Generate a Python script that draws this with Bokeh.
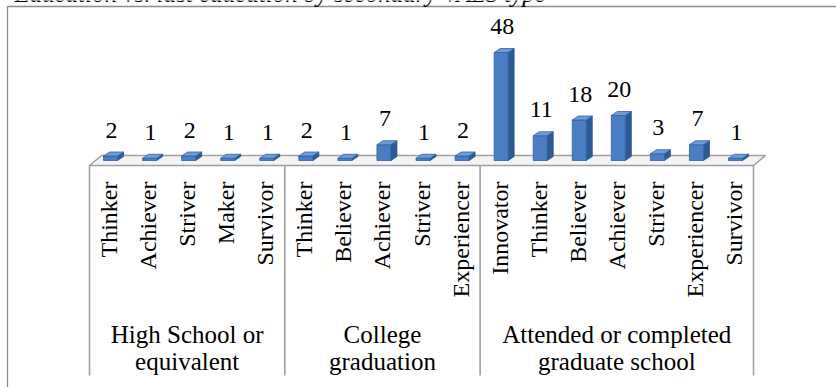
import math
from bokeh.plotting import figure
from bokeh.models import Range1d, ColumnDataSource
from bokeh.embed import file_html
from bokeh.resources import INLINE
from bokeh.core.properties import value

# ---- data -------------------------------------------------------------
title_text = "Education vs. last education by secondary VALS type"

group_line1 = ["High School or", "College", "Attended or completed"]
group_line2 = ["equivalent", "graduation", "graduate school"]

types_hs = ["Thinker", "Achiever", "Striver", "Maker", "Survivor"]
counts_hs = [2, 1, 2, 1, 1]

types_col = ["Thinker", "Believer", "Achiever", "Striver", "Experiencer"]
counts_col = [2, 1, 7, 1, 2]

types_grad = ["Innovator", "Thinker", "Believer", "Achiever", "Striver",
              "Experiencer", "Survivor"]
counts_grad = [48, 11, 18, 20, 3, 7, 1]

# ---- layout (pixels) ----------------------------------------------------
W, H = 836, 387
X0 = 89.0        # left edge of the category band
STEP = 39.06     # pixels per category
BASE = 160.0     # screen y of value 0
PPU = 2.25       # pixels per unit of value
TXT_SHIFT = 7.0  # svg alphabetic baseline sits a little low; lift it


def sx(px):
    """screen x pixel -> data x"""
    return (px - X0) / STEP


def sy(py):
    """screen y pixel (from top) -> data y"""
    return (BASE - py) / PPU


p = figure(width=W, height=H, min_border=0, toolbar_location=None,
           output_backend="svg", x_axis_location=None, y_axis_location=None,
           x_range=Range1d(sx(0), sx(W)), y_range=Range1d(sy(H), sy(0)))
p.grid.visible = False
p.outline_line_color = None
p.background_fill_color = "white"
p.border_fill_color = "white"

FONT = "Liberation Serif"
GRAY = "#a0a0a0"

types = types_hs + types_col + types_grad
counts = counts_hs + counts_col + counts_grad
sizes = [len(types_hs), len(types_col), len(types_grad)]
n = len(types)
centers = [i + 0.5 for i in range(n)]

# outer frame (top and left edges)
p.line([sx(7), sx(7), sx(W + 5)], [sy(H + 5), sy(6), sy(6)],
       line_color="#8c8c8c", line_width=1.3)

# caption running off the top edge
p.text(x=[sx(14)], y=[sy(-0.5 - TXT_SHIFT)], text=[title_text],
       text_font=value(FONT), text_font_size="25px", text_font_style="italic",
       text_align="left", text_baseline="alphabetic", text_color="black")

# floor plane
fdx = 12.0 / STEP
fdy = 5.0 / PPU
p.patch([0, n, n + fdx, fdx], [-fdy, -fdy, fdy, fdy],
        fill_color="#f4f4f4", line_color=GRAY, line_width=1.5)

# group separators below the floor
bounds = [0]
for s in sizes:
    bounds.append(bounds[-1] + s)
p.segment(x0=bounds, y0=[-fdy] * len(bounds), x1=bounds,
          y1=[sy(375)] * len(bounds), line_color=GRAY, line_width=1.6)

# 3-D bars
hw = 7.0 / STEP
bdx = 6.0 / STEP
bdy = 4.0 / PPU
off = 1.5 / STEP
front_xs, front_ys, side_xs, side_ys, top_xs, top_ys = [], [], [], [], [], []
for c, v in zip(centers, counts):
    l, r = c + off - hw, c + off + hw
    front_xs.append([l, r, r, l])
    front_ys.append([0, 0, v, v])
    side_xs.append([r, r + bdx, r + bdx, r])
    side_ys.append([0, bdy, v + bdy, v])
    top_xs.append([l, r, r + bdx, l + bdx])
    top_ys.append([v, v, v + bdy, v + bdy])

p.patches(side_xs, side_ys, fill_color="#2e5a93", line_color="#27508a", line_width=0.8)
p.patches(front_xs, front_ys, fill_color="#4a7ec2", line_color="#2f62a3", line_width=0.8)
p.patches(top_xs, top_ys, fill_color="#6f9bd6", line_color="#2f62a3", line_width=0.8)

# value labels
lab = ColumnDataSource(dict(
    x=[c + off + 1.0 / STEP for c in centers],
    y=[v + bdy + (15.0 + TXT_SHIFT) / PPU for v in counts],
    t=[str(v) for v in counts]))
p.text(x="x", y="y", text="t", source=lab, text_font=value(FONT),
       text_font_size="24px", text_align="center", text_baseline="alphabetic",
       text_color="black")

# category labels, rotated
cat = ColumnDataSource(dict(x=centers, y=[sy(181)] * n, t=types))
p.text(x="x", y="y", text="t", source=cat, angle=math.pi / 2,
       text_font=value(FONT), text_font_size="24px", text_align="right",
       text_baseline="middle", text_color="black")

# group labels
gc = [(bounds[i] + bounds[i + 1]) / 2 for i in range(len(sizes))]
p.text(x=gc, y=[sy(341 - TXT_SHIFT)] * len(gc), text=group_line1,
       text_font=value(FONT), text_font_size="25px", text_align="center",
       text_baseline="alphabetic", text_color="black")
p.text(x=gc, y=[sy(368 - TXT_SHIFT)] * len(gc), text=group_line2,
       text_font=value(FONT), text_font_size="25px", text_align="center",
       text_baseline="alphabetic", text_color="black")

open("out.html", "w").write(file_html(p, INLINE))
